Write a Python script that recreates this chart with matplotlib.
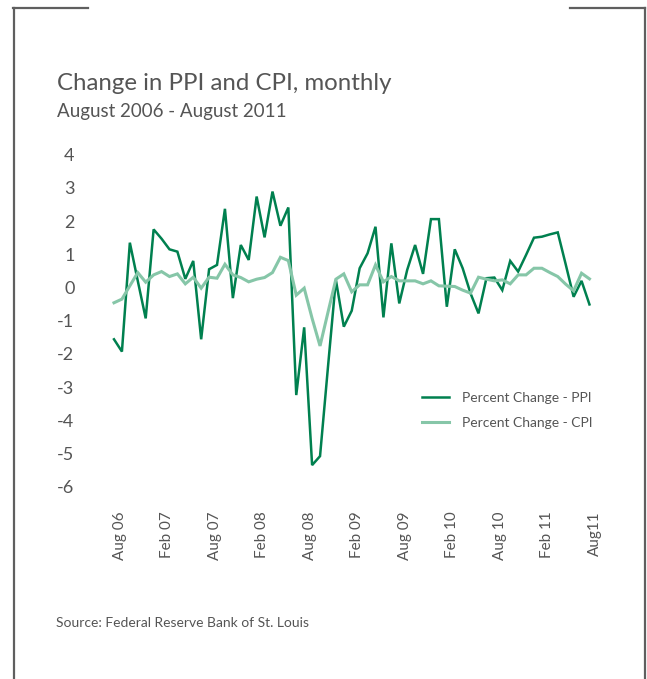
import matplotlib
matplotlib.use("Agg")
import matplotlib.pyplot as plt
from matplotlib.lines import Line2D
import numpy as np

# monthly percent changes, Aug 2006 .. Aug 2011
ppi = [-1.56, -1.93, 1.35, 0.20, -0.93, 1.75, 1.47, 1.15, 1.08, 0.26,
       0.80, -1.56, 0.55, 0.68, 2.37, -0.32, 1.28, 0.83, 2.74, 1.51,
       2.89, 1.86, 2.41, -3.24, -1.20, -5.35, -5.08, -2.40, 0.23, -1.18,
       -0.70, 0.58, 1.03, 1.83, -0.90, 1.33, -0.48, 0.53, 1.28, 0.41,
       2.06, 2.06, -0.58, 1.15, 0.58, -0.18, -0.78, 0.28, 0.30, -0.08,
       0.80, 0.48, 0.98, 1.50, 1.53, 1.60, 1.66, 0.70, -0.28, 0.20,
       -0.51]
cpi = [-0.46, -0.35, 0.05, 0.45, 0.16, 0.38, 0.48, 0.33, 0.41, 0.11,
       0.31, -0.02, 0.31, 0.28, 0.70, 0.38, 0.30, 0.17, 0.25, 0.30,
       0.45, 0.91, 0.81, -0.23, -0.02, -0.93, -1.76, -0.75, 0.25, 0.41,
       -0.13, 0.08, 0.08, 0.68, 0.17, 0.33, 0.20, 0.20, 0.20, 0.11,
       0.20, 0.05, 0.04, 0.03, -0.08, -0.17, 0.31, 0.25, 0.20, 0.23,
       0.11, 0.38, 0.38, 0.58, 0.58, 0.45, 0.33, 0.10, -0.10, 0.43,
       0.26]
tick_labels = ['Aug 06', 'Feb 07', 'Aug 07', 'Feb 08', 'Aug 08', 'Feb 09',
               'Aug 09', 'Feb 10', 'Aug 10', 'Feb 11', 'Aug11']
y_ticks = [4, 3, 2, 1, 0, -1, -2, -3, -4, -5, -6]

W, H = 647, 679
FONT = 'Lato'
GREY = '#555555'
DARK = '#00804f'
LIGHT = '#86c6a8'

plt.rcParams['font.family'] = [FONT, 'DejaVu Sans']


def fx(px):
    return px / W


def fy(py):
    return 1 - py / H


fig = plt.figure(figsize=(W / 100, H / 100), dpi=100)
fig.patch.set_facecolor('white')

# frame corners
frame = [((13.5, 13.5), (679, 8)), ((13, 88), (8, 8)),
         ((570, 645), (8, 8)), ((644.5, 644.5), (8, 679))]
for xs, ys in frame:
    fig.add_artist(Line2D([fx(v) for v in xs], [fy(v) for v in ys],
                          transform=fig.transFigure, color='#5f5f5f', lw=1.6))

fig.text(fx(57), fy(90), 'Change in PPI and CPI, monthly', fontsize=17.3,
         color=GREY, va='baseline')
fig.text(fx(57), fy(117), 'August 2006 - August 2011', fontsize=13.5,
         color=GREY, va='baseline')
fig.text(fx(56.5), fy(627), 'Source: Federal Reserve Bank of St. Louis',
         fontsize=10, color=GREY, va='baseline')

ax = fig.add_axes([fx(114), fy(486.7), (595 - 114) / W, (486.7 - 154.7) / H])
months = np.arange(len(ppi))
ax.plot(months, ppi, color=DARK, lw=1.8, label='Percent Change - PPI',
        clip_on=False, solid_joinstyle='miter')
ax.plot(months, cpi, color=LIGHT, lw=2.2, label='Percent Change - CPI',
        clip_on=False, solid_joinstyle='miter')
ax.set_xlim(0, 60)
ax.set_ylim(-6, 4)
for s in ax.spines.values():
    s.set_visible(False)
ax.set_yticks(y_ticks)
ax.set_yticklabels([str(v) for v in y_ticks])
ax.set_xticks(np.arange(0, 61, 6) + 0.7)
ax.set_xticklabels(tick_labels, rotation=90)
ax.tick_params(axis='y', length=0, pad=28.5, labelsize=13, labelcolor=GREY)
ax.tick_params(axis='x', length=0, pad=18, labelsize=11, labelcolor=GREY)

fig.legend(loc='upper left', bbox_to_anchor=(fx(421.5), fy(392)),
           frameon=False, fontsize=10, handlelength=2.0, handletextpad=0.9,
           labelspacing=0.95, borderpad=0, borderaxespad=0, labelcolor=GREY)

fig.savefig('out.png', dpi=100, facecolor='white')
